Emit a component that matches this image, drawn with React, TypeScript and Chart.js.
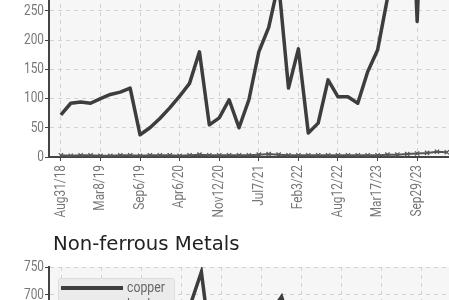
import React, { useEffect, useRef } from 'react';
import { Chart, registerables } from 'chart.js';

Chart.register(...registerables);

// ---------- data ----------
const dateLabels = [
  'Aug31/18', 'Oct12/18', 'Nov23/18', 'Jan18/19', 'Mar8/19', 'Apr19/19', 'Jun7/19', 'Jul26/19',
  'Sep6/19', 'Oct25/19', 'Dec13/19', 'Feb14/20', 'Apr6/20', 'May29/20', 'Jul17/20', 'Sep25/20',
  'Nov12/20', 'Jan8/21', 'Mar5/21', 'May7/21', 'Jul7/21', 'Aug27/21', 'Oct15/21', 'Dec10/21',
  'Feb3/22', 'Mar25/22', 'May13/22', 'Jun24/22', 'Aug12/22', 'Sep30/22', 'Nov18/22', 'Jan27/23',
  'Mar17/23', 'May5/23', 'Jun23/23', 'Aug11/23', 'Sep29/23', 'Nov17/23', 'Jan12/24', 'Mar1/24',
];
const labelEvery = 4;

const ferrousMain = [
  72, 92, 94, 92, 100, 107, 111, 118, 38, 50, 66, 84, 104, 126, 180, 55,
  67, 98, 50, 98, 180, 222, 298, 118, 185, 41, 58, 132, 103, 103, 92, 146,
  183, 272, 420, 640, 232, 650, 660, 640,
];
const ferrousLow = [
  3, 2, 3, 3, 2, 2, 3, 3, 2, 3, 3, 3, 2, 3, 4, 3,
  3, 3, 3, 3, 4, 5, 4, 3, 3, 3, 3, 3, 3, 3, 3, 3,
  3, 4, 4, 5, 6, 7, 9, 8,
];

const seriesNames = ['copper', 'lead'];
const copper = [
  600, 610, 590, 605, 620, 615, 600, 610, 595, 620, 640, 650, 660, 688, 741, 600,
  620, 640, 610, 630, 660, 670, 697, 640, 665, 620, 600, 630, 610, 615, 605, 630,
  650, 660, 640, 670, 650, 660, 675, 670,
];
const lead = [
  250, 255, 248, 252, 260, 258, 250, 255, 248, 256, 262, 265, 270, 275, 290, 262,
  268, 272, 265, 270, 280, 285, 290, 275, 282, 270, 262, 270, 265, 266, 262, 270,
  276, 280, 272, 285, 278, 282, 288, 285,
];

const topYMax = 700;
const bottomYMax = 750;
const yStep = 50;

// ---------- style ----------
const NARROW = 0.79;
const baseFamily = "Roboto, 'Liberation Sans', sans-serif";
const tickFont = { family: baseFamily, size: 15 };
const tickColor = '#777777';
const gridColor = '#d2d2d2';
const axisColor = '#444444';
const lineDark = '#3d3d3d';
const lineMid = '#8a8a8a';

const plotBg = {
  id: 'plotBg',
  beforeDraw(chart: any) {
    const { ctx, chartArea: a } = chart;
    ctx.save();
    ctx.fillStyle = '#f6f6f6';
    ctx.fillRect(a.left, a.top, a.right - a.left, a.bottom - a.top);
    ctx.restore();
  },
};

// draws tick text horizontally condensed (narrow face look-alike)
const narrowText = {
  id: 'narrowText',
  beforeDraw(chart: any) {
    const ctx = chart.ctx as any;
    if (ctx.__origFill) return;
    const orig = ctx.fillText;
    ctx.__origFill = orig;
    ctx.fillText = function (text: string, x: number, y: number) {
      this.save();
      this.translate(x, y);
      this.scale(NARROW, 1);
      orig.call(this, text, 0, 0);
      this.restore();
    };
  },
  afterDraw(chart: any) {
    const ctx = chart.ctx as any;
    if (ctx.__origFill) {
      ctx.fillText = ctx.__origFill;
      delete ctx.__origFill;
    }
  },
};

function xScale() {
  return {
    type: 'linear',
    min: -1.2,
    max: 39.5,
    afterFit: (s: any) => { s.height = 70; },
    grid: { color: gridColor, tickColor: axisColor, tickLength: 4 },
    border: { display: true, color: axisColor, width: 2, dash: [4, 4] },
    ticks: {
      stepSize: labelEvery,
      includeBounds: false,
      autoSkip: false,
      minRotation: 90,
      maxRotation: 90,
      padding: 4,
      color: tickColor,
      font: tickFont,
      callback: (v: number) =>
        Number.isInteger(v) && v % labelEvery === 0 && dateLabels[v] !== undefined ? dateLabels[v] : null,
    },
  };
}

function yScale(max: number) {
  return {
    min: 0,
    max,
    afterFit: (s: any) => { s.width = 49; },
    grid: { color: gridColor, tickColor: axisColor, tickLength: 4 },
    border: { display: true, color: axisColor, width: 2, dash: [4, 4] },
    ticks: { stepSize: yStep, color: tickColor, font: tickFont, padding: 1 },
  };
}

const toXY = (arr: number[]) => arr.map((v, i) => ({ x: i, y: v }));

const CANVAS_W = 457;
const TOP_H = 499;
const BOTTOM_H = 510;

export default function App() {
  const topRef = useRef<HTMLCanvasElement>(null);
  const botRef = useRef<HTMLCanvasElement>(null);

  useEffect(() => {
    const common = {
      type: 'line' as const,
      plugins: [plotBg, narrowText],
    };
    const c1 = new Chart(topRef.current as HTMLCanvasElement, {
      ...common,
      data: {
        datasets: [
          {
            label: 'main',
            data: toXY(ferrousMain),
            borderColor: lineDark,
            borderWidth: 3.5,
            pointRadius: 0,
            tension: 0,
            borderJoinStyle: 'round',
          },
          {
            label: 'low',
            data: toXY(ferrousLow),
            borderColor: '#555555',
            backgroundColor: '#555555',
            borderWidth: 2,
            pointStyle: 'crossRot',
            pointRadius: 3,
            pointBorderWidth: 1.2,
            tension: 0,
          },
        ],
      },
      options: {
        animation: false,
        responsive: false,
        layout: { padding: { top: 20, left: 0, right: 0, bottom: 0 } },
        plugins: { legend: { display: false }, tooltip: { enabled: false } },
        scales: { x: xScale(), y: yScale(topYMax) },
      },
    } as any);

    const c2 = new Chart(botRef.current as HTMLCanvasElement, {
      ...common,
      data: {
        datasets: [
          {
            label: seriesNames[0],
            data: toXY(copper),
            borderColor: lineDark,
            borderWidth: 3.5,
            pointRadius: 0,
            tension: 0,
          },
          {
            label: seriesNames[1],
            data: toXY(lead),
            borderColor: lineMid,
            borderWidth: 3.5,
            pointRadius: 0,
            tension: 0,
          },
        ],
      },
      options: {
        animation: false,
        responsive: false,
        layout: { padding: { top: 20, left: 0, right: 0, bottom: 0 } },
        plugins: { legend: { display: false }, tooltip: { enabled: false } },
        scales: { x: xScale(), y: yScale(bottomYMax) },
      },
    } as any);

    return () => {
      c1.destroy();
      c2.destroy();
    };
  }, []);

  const legendItems = [
    { name: seriesNames[0], color: lineDark },
    { name: seriesNames[1], color: lineMid },
  ];

  return (
    <div
      style={{
        position: 'fixed', left: 0, top: 0, width: 449, height: 300,
        overflow: 'hidden', background: '#ffffff',
      }}
    >
      <canvas
        ref={topRef}
        width={CANVAS_W}
        height={TOP_H}
        style={{ position: 'absolute', left: 0, top: -272, width: CANVAS_W, height: TOP_H }}
      />
      <canvas
        ref={botRef}
        width={CANVAS_W}
        height={BOTTOM_H}
        style={{ position: 'absolute', left: 0, top: 247, width: CANVAS_W, height: BOTTOM_H }}
      />
      <div
        style={{
          position: 'absolute', left: 53, top: 234, lineHeight: '20px',
          fontFamily: "'DejaVu Sans', sans-serif", fontSize: 19.7, color: '#222222', whiteSpace: 'nowrap',
        }}
      >
        Non-ferrous Metals
      </div>
      <div
        style={{
          position: 'absolute', left: 58, top: 278, width: 117, boxSizing: 'border-box',
          background: '#ebebeb', border: '1px solid #dcdcdc', borderRadius: 3,
          padding: '0 0 4px 2px',
        }}
      >
        {legendItems.map((it) => (
          <div key={it.name} style={{ display: 'flex', alignItems: 'center', height: 17 }}>
            <span style={{ display: 'inline-block', width: 62, height: 4, background: it.color, marginRight: 4, flexShrink: 0 }} />
            <span
              style={{
                display: 'inline-block', fontFamily: baseFamily, fontSize: 15.5, color: '#666666',
                lineHeight: '17px', transform: `scaleX(${NARROW})`, transformOrigin: 'left center',
                whiteSpace: 'nowrap',
              }}
            >
              {it.name}
            </span>
          </div>
        ))}
      </div>
    </div>
  );
}
